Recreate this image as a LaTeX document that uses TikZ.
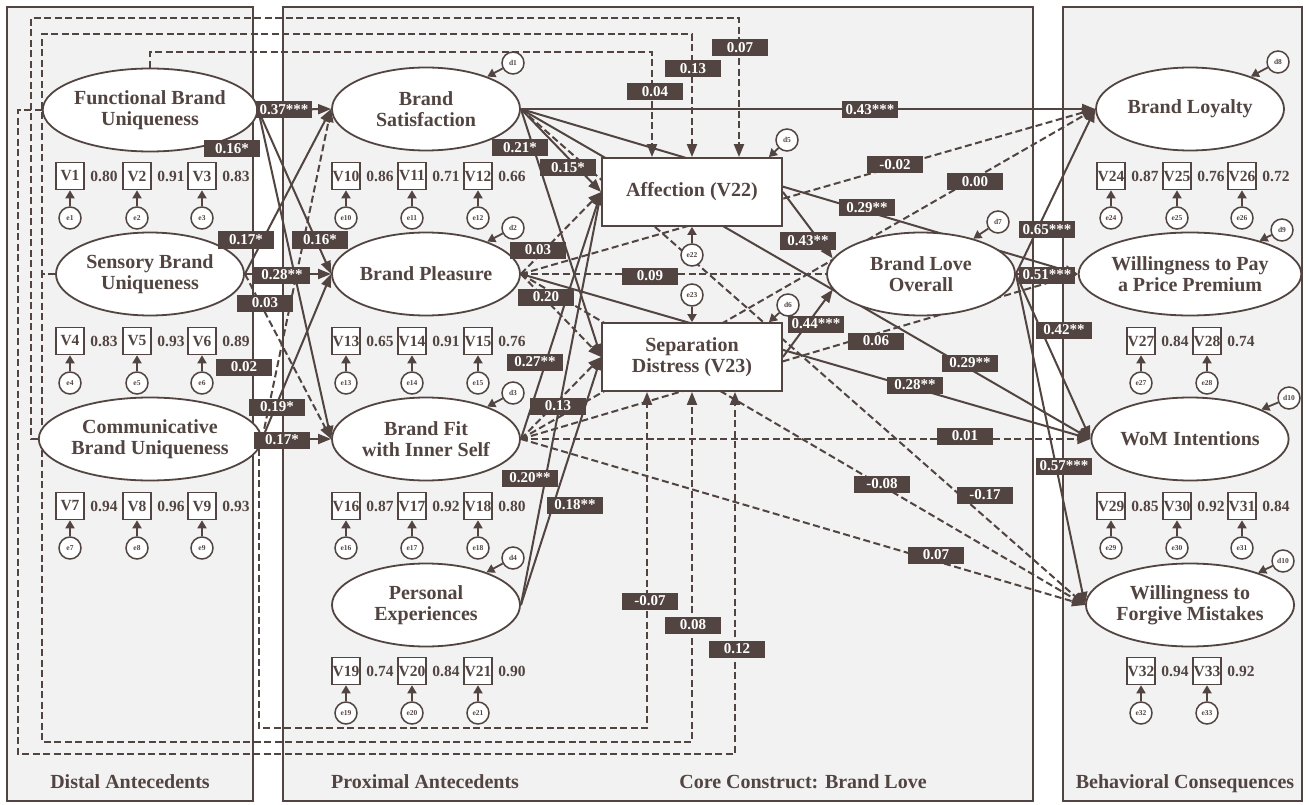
\documentclass[tikz,border=0pt]{standalone}
\usepackage{fontspec}
\setmainfont{Liberation Serif}
\usetikzlibrary{arrows.meta,shapes.geometric,calc}
\definecolor{ink}{HTML}{524541}
\definecolor{panel}{HTML}{F2F2F2}
\pgfdeclarelayer{bg}
\pgfdeclarelayer{edges}
\pgfdeclarelayer{fg}
\pgfsetlayers{bg,edges,main,fg}
\newcommand\mvar[4]{% number, x, y, loading
  \node[ind] (v#1) at (#2,#3) {V#1};
  \node[ld] (l#1) at (#2+34,#3) {#4};
  \node[err] (e#1) at (#2,#3+42) {e#1};
  \draw[small] (e#1) -- (v#1);
}
\begin{document}
\begin{tikzpicture}[x=1pt,y=-1pt,
  every node/.style={text=ink,font=\bfseries},
  lat/.style={ellipse,draw=ink,line width=1.8pt,fill=white,minimum width=188pt,minimum height=83pt,inner sep=0pt,align=center,font=\fontsize{20}{21}\selectfont\bfseries},
  ind/.style={draw=ink,line width=1.6pt,fill=white,minimum width=28pt,minimum height=27pt,inner sep=0pt,font=\fontsize{15.5}{15.5}\selectfont\bfseries},
  ld/.style={inner sep=0pt,font=\fontsize{15.5}{15.5}\selectfont\bfseries},
  err/.style={circle,draw=ink,line width=1.5pt,fill=white,minimum size=22pt,inner sep=0pt,font=\fontsize{7.5}{8}\selectfont\bfseries},
  core/.style={draw=ink,line width=1.8pt,fill=white,minimum width=180pt,minimum height=68pt,inner sep=0pt,align=center,font=\fontsize{20}{21}\selectfont\bfseries},
  coef/.style={fill=ink,text=white,minimum width=56pt,minimum height=17pt,inner sep=0pt,font=\fontsize{15}{15}\selectfont\bfseries},
  sol/.style={draw=ink,line width=2pt,-{Triangle[length=13pt,width=10pt]}},
  dsh/.style={sol,dash pattern=on 7pt off 3.5pt},
  small/.style={draw=ink,line width=1.8pt,-{Triangle[length=8pt,width=9pt]}},
  panelbox/.style={draw=ink,line width=1.8pt,fill=panel},
  sect/.style={anchor=base,font=\fontsize{20}{20}\selectfont\bfseries}
]
\useasboundingbox (0,0) rectangle (1309,805);
\begin{pgfonlayer}{bg}
\fill[white] (0,0) rectangle (1309,805);
\draw[panelbox] (7,7) rectangle (253,801);
\draw[panelbox] (283,7) rectangle (1033,801);
\draw[panelbox] (1063,7) rectangle (1302,801);
\end{pgfonlayer}
\node[sect] (sdist) at (130,788) {Distal Antecedents};
\node[sect] (sprox) at (425,788) {Proximal Antecedents};
\node[sect] (score) at (803,788) {Core Construct: Brand Love};
\node[sect] (sbeh) at (1185,788) {Behavioral Consequences};

% latent variables
\node[lat] (fbu) at (150,110) {Functional Brand\\Uniqueness};
\node[lat] (sbu) at (150,274) {Sensory Brand\\Uniqueness};
\node[lat] (cbu) at (150,439) {Communicative\\Brand Uniqueness};
\node[lat] (bs) at (426,109) {Brand\\Satisfaction};
\node[lat] (bp) at (426,274) {Brand Pleasure};
\node[lat] (bfis) at (426,439) {Brand Fit\\with Inner Self};
\node[lat] (pe) at (426,605) {Personal\\Experiences};
\node[core] (aff) at (692,192) {Affection (V22)};
\node[core] (sd) at (692,357) {Separation\\Distress (V23)};
\node[lat] (blo) at (921,274) {Brand Love\\Overall};
\node[lat] (bl) at (1190,109) {Brand Loyalty};
\node[lat] (wtp) at (1190,274) {Willingness to Pay\\a Price Premium};
\node[lat] (wom) at (1190,439) {WoM Intentions};
\node[lat] (wfm) at (1190,605) {Willingness to\\Forgive Mistakes};

% indicators
\mvar{1}{70}{176}{0.80}\mvar{2}{137}{176}{0.91}\mvar{3}{202}{176}{0.83}
\mvar{4}{70}{341}{0.83}\mvar{5}{137}{341}{0.93}\mvar{6}{202}{341}{0.89}
\mvar{7}{70}{506}{0.94}\mvar{8}{137}{506}{0.96}\mvar{9}{202}{506}{0.93}
\mvar{10}{346}{176}{0.86}\mvar{11}{412}{176}{0.71}\mvar{12}{478}{176}{0.66}
\mvar{13}{346}{341}{0.65}\mvar{14}{412}{341}{0.91}\mvar{15}{478}{341}{0.76}
\mvar{16}{346}{506}{0.87}\mvar{17}{412}{506}{0.92}\mvar{18}{478}{506}{0.80}
\mvar{19}{346}{671}{0.74}\mvar{20}{412}{671}{0.84}\mvar{21}{478}{671}{0.90}
\mvar{24}{1111}{176}{0.87}\mvar{25}{1177}{176}{0.76}\mvar{26}{1242}{176}{0.72}
\mvar{27}{1141}{341}{0.84}\mvar{28}{1207}{341}{0.74}
\mvar{29}{1111}{506}{0.85}\mvar{30}{1177}{506}{0.92}\mvar{31}{1242}{506}{0.84}
\mvar{32}{1141}{671}{0.94}\mvar{33}{1207}{671}{0.92}

% disturbances and single-item errors
\node[err] (d1) at (513,63) {d1};
\node[err] (d2) at (513,228) {d2};
\node[err] (d3) at (513,393) {d3};
\node[err] (d4) at (513,558) {d4};
\node[err] (d5) at (787,140) {d5};
\node[err] (d6) at (788,305) {d6};
\node[err] (d7) at (998,222) {d7};
\node[err] (d8) at (1278,62) {d8};
\node[err] (d9) at (1282,230) {d9};
\node[err] (d10) at (1289,398) {d10};
\node[err] (d10b) at (1283,561) {d10};
\node[err] (e22) at (692,255) {e22};
\node[err] (e23) at (692,295) {e23};
\draw[small] (d1) -- (bs);
\draw[small] (d2) -- (bp);
\draw[small] (d3) -- (bfis);
\draw[small] (d4) -- (pe);
\draw[small] (d5) -- ([xshift=-14pt]aff.north east);
\draw[small] (d6) -- ([xshift=-14pt]sd.north east);
\draw[small] (d7) -- (blo);
\draw[small] (d8) -- (bl);
\draw[small] (d9) -- (wtp);
\draw[small] (d10) -- (wom);
\draw[small] (d10b) -- (wfm);
\draw[small] (e22) -- (aff);
\draw[small] (e23) -- (sd);

\coordinate (k647) at (647,0);
\coordinate (k652) at (652,0);
\coordinate (k735) at (735,0);
\coordinate (k739) at (739,0);

\begin{pgfonlayer}{edges}
% distal -> proximal
\draw[sol] (fbu.east) -- (bs.west);
\draw[sol] (fbu.east) -- (bp.west);
\draw[sol] (fbu.east) -- (bfis.west);
\draw[sol] (sbu.east) -- (bs.west);
\draw[sol] (sbu.east) -- (bp.west);
\draw[dsh] (sbu.east) -- (bfis.west);
\draw[dsh] (cbu.east) -- (bs.west);
\draw[sol] (cbu.east) -- (bp.west);
\draw[sol] (cbu.east) -- (bfis.west);
% distal -> core
\draw[dsh] (fbu.north) |- (652,52) -- (aff.north -| k652);
\draw[dsh] (sbu.west) -| (42,34) -| (aff.north);
\draw[dsh] (cbu.west) -| (31,18) -| (aff.north -| k739);
\draw[dsh] (fbu.west) -| (18,754) -| (sd.south -| k735);
\draw[dsh] (sbu.west) -| (42,742) -| (sd.south);
\draw[dsh] (cbu.-5) |- (647,728) -- (sd.south -| k647);
% proximal -> core
\draw[sol] (bs.east) -- (aff.west);
\draw[sol] (bs.east) -- (sd.west);
\draw[dsh] (bp.east) -- (aff.west);
\draw[dsh] (bp.east) -- (sd.west);
\draw[sol] (bfis.east) -- (aff.west);
\draw[dsh] (bfis.east) -- (sd.west);
\draw[sol] (pe.east) -- (aff.west);
\draw[sol] (pe.east) -- (sd.west);
% core -> brand love overall
\draw[sol] (aff.east) -- (blo.170);
\draw[sol] (sd.east) -- (blo.190);
% proximal -> consequences
\draw[sol] (bs.east) -- (bl.west);
\draw[sol] (bs.east) -- (wtp.west);
\draw[sol] (bs.east) -- (wom.west);
\draw[dsh] (bs.east) -- (wfm.west);
\draw[dsh] (bp.east) -- (bl.west);
\draw[dsh] (bp.east) -- (wtp.west);
\draw[sol] (bp.east) -- (wom.west);
\draw[dsh] (bp.east) -- (wfm.west);
\draw[dsh] (bfis.east) -- (bl.west);
\draw[dsh] (bfis.east) -- (wtp.west);
\draw[dsh] (bfis.east) -- (wom.west);
\draw[dsh] (bfis.east) -- (wfm.west);
% brand love overall -> consequences
\draw[sol] (blo.east) -- (bl.west);
\draw[sol] (blo.east) -- (wtp.west);
\draw[sol] (blo.east) -- (wom.west);
\draw[sol] (blo.east) -- (wfm.west);
\end{pgfonlayer}

\begin{pgfonlayer}{fg}
\node[coef] (c1) at (284,110) {0.37***};
\node[coef] (c2) at (232,149) {0.16*};
\node[coef] (c3) at (246,240) {0.17*};
\node[coef] (c4) at (320,240) {0.16*};
\node[coef] (c5) at (282,275) {0.28**};
\node[coef] (c6) at (265,303) {0.03};
\node[coef] (c7) at (244,367) {0.02};
\node[coef] (c8) at (277,407) {0.19*};
\node[coef] (c9) at (282,440) {0.17*};
\node[coef] (c10) at (520,148) {0.21*};
\node[coef] (c11) at (568,168) {0.15*};
\node[coef] (c12) at (538,250) {0.03};
\node[coef] (c13) at (740,48) {0.07};
\node[coef] (c14) at (693,69) {0.13};
\node[coef] (c15) at (655,92) {0.04};
\node[coef] (c16) at (870,110) {0.43***};
\node[coef] (c17) at (895,165) {-0.02};
\node[coef] (c18) at (975,182) {0.00};
\node[coef] (c19) at (867,208) {0.29**};
\node[coef] (c20) at (808,241) {0.43**};
\node[coef] (c21) at (1047,230) {0.65***};
\node[coef] (c22) at (1047,275) {0.51***};
\node[coef] (c23) at (1064,330) {0.42**};
\node[coef] (c24) at (1064,466) {0.57***};
\node[coef] (c25) at (985,495) {-0.17};
\node[coef] (c26) at (965,436) {0.01};
\node[coef] (c27) at (546,297) {0.20};
\node[coef] (c28) at (535,362) {0.27**};
\node[coef] (c29) at (558,406) {0.13};
\node[coef] (c30) at (530,478) {0.20**};
\node[coef] (c31) at (575,505) {0.18**};
\node[coef] (c32) at (650,276) {0.09};
\node[coef] (c33) at (816,324) {0.44***};
\node[coef] (c34) at (876,341) {0.06};
\node[coef] (c35) at (970,363) {0.29**};
\node[coef] (c36) at (915,385) {0.28**};
\node[coef] (c37) at (882,484) {-0.08};
\node[coef] (c38) at (936,555) {0.07};
\node[coef] (c39) at (650,601) {-0.07};
\node[coef] (c40) at (693,625) {0.08};
\node[coef] (c41) at (737,649) {0.12};
\end{pgfonlayer}
\end{tikzpicture}
\end{document}
